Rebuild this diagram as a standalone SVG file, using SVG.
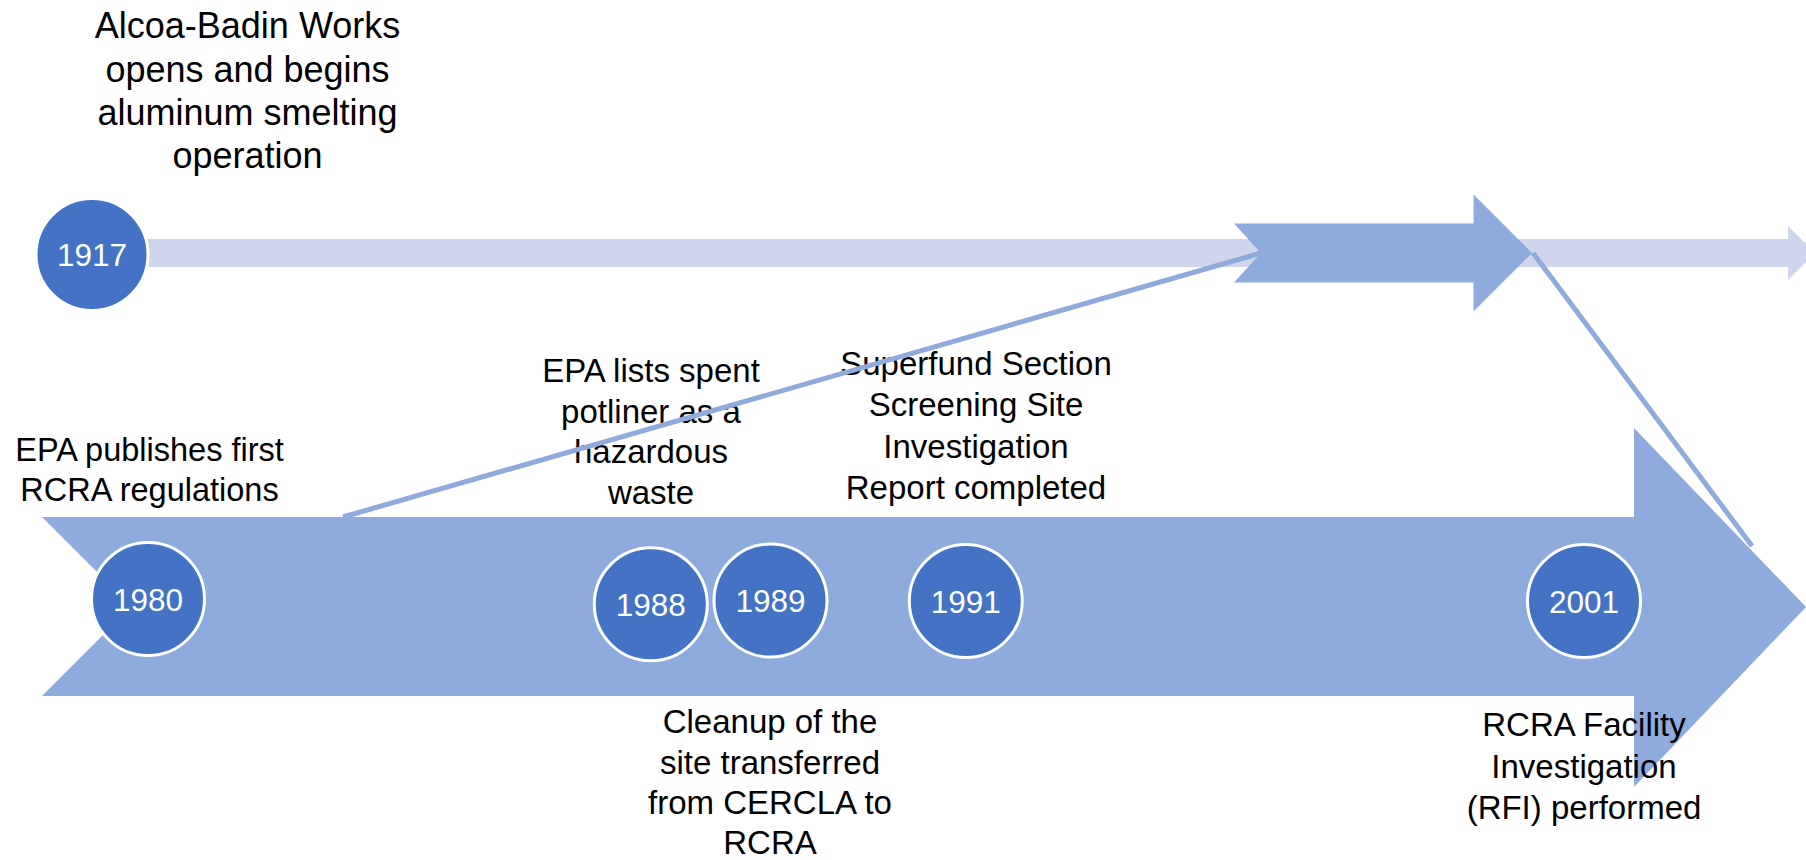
<svg xmlns="http://www.w3.org/2000/svg" width="1806" height="860" viewBox="0 0 1806 860">
<style>
.bar{fill:#CFD5EA}
.arrow{fill:#8FAADC}
.dot{fill:#4472C4;stroke:#FFFFFF;stroke-width:3}
.yr{font-family:"Liberation Sans",Arial,sans-serif;font-size:31.5px;fill:#FFFFFF;text-anchor:middle}
.lbl{font-family:"Liberation Sans",Arial,sans-serif;font-size:33px;fill:#000000;text-anchor:middle}
.conn{stroke:#8FAADC;stroke-width:5;fill:none}
</style>
<rect width="1806" height="860" fill="#FFFFFF"/>
<g id="timeline-1917">
<polygon class="bar" points="120,239 1788,239 1788,226 1815,253 1788,280 1788,267 120,267"/>
</g>
<g id="timeline-main">
<polygon class="arrow" points="42,517 1634,517 1634,428 1806,607 1634,787 1634,696 42,696 131.5,606.5"/>
</g>
<g id="arrow-mid">
<polygon class="arrow" points="1234,223.5 1473.5,223.5 1473.5,194.5 1532,253 1473.5,311.5 1473.5,282.5 1234,282.5 1261,253"/>
</g>
<g id="node-1917">
<circle class="dot" cx="92" cy="254.5" r="56"/>
<text class="yr" x="92" y="266">1917</text>
</g>
<g id="node-1980">
<circle class="dot" cx="148" cy="599" r="56.5"/>
<text class="yr" x="148" y="610.5">1980</text>
</g>
<g id="node-1988">
<circle class="dot" cx="650.8" cy="604.3" r="56.5"/>
<text class="yr" x="650.8" y="616">1988</text>
</g>
<g id="node-1989">
<circle class="dot" cx="770.5" cy="600.5" r="56.5"/>
<text class="yr" x="770.5" y="612">1989</text>
</g>
<g id="node-1991">
<circle class="dot" cx="965.8" cy="601" r="56.5"/>
<text class="yr" x="965.8" y="612.5">1991</text>
</g>
<g id="node-2001">
<circle class="dot" cx="1584" cy="601" r="56.5"/>
<text class="yr" x="1584" y="612.5">2001</text>
</g>
<g id="label-1917">
<text class="lbl" style="font-size:36px" x="247.5" y="38.3">Alcoa-Badin Works</text>
<text class="lbl" style="font-size:36px" x="247.5" y="81.6">opens and begins</text>
<text class="lbl" style="font-size:36px" x="247.5" y="124.9">aluminum smelting</text>
<text class="lbl" style="font-size:36px" x="247.5" y="168.2">operation</text>
</g>
<g id="label-1980">
<text class="lbl" style="font-size:32.5px" x="149.5" y="461">EPA publishes first</text>
<text class="lbl" style="font-size:32.5px" x="149.5" y="501">RCRA regulations</text>
</g>
<g id="label-1988">
<text class="lbl" x="651" y="382">EPA lists spent</text>
<text class="lbl" x="651" y="422.5">potliner as a</text>
<text class="lbl" x="651" y="463">hazardous</text>
<text class="lbl" x="651" y="503.5">waste</text>
</g>
<g id="label-1991">
<text class="lbl" x="976" y="374.5">Superfund Section</text>
<text class="lbl" x="976" y="416">Screening Site</text>
<text class="lbl" x="976" y="457.5">Investigation</text>
<text class="lbl" x="976" y="499">Report completed</text>
</g>
<g id="label-1989">
<text class="lbl" x="770" y="733">Cleanup of the</text>
<text class="lbl" x="770" y="773.5">site transferred</text>
<text class="lbl" x="770" y="814">from CERCLA to</text>
<text class="lbl" x="770" y="853.5">RCRA</text>
</g>
<g id="label-2001">
<text class="lbl" x="1584" y="736">RCRA Facility</text>
<text class="lbl" x="1584" y="778">Investigation</text>
<text class="lbl" x="1584" y="819">(RFI) performed</text>
</g>
<g id="connectors">
<line class="conn" x1="343" y1="517" x2="1261" y2="253"/>
<line class="conn" x1="1533" y1="253" x2="1752" y2="546"/>
</g>
</svg>
